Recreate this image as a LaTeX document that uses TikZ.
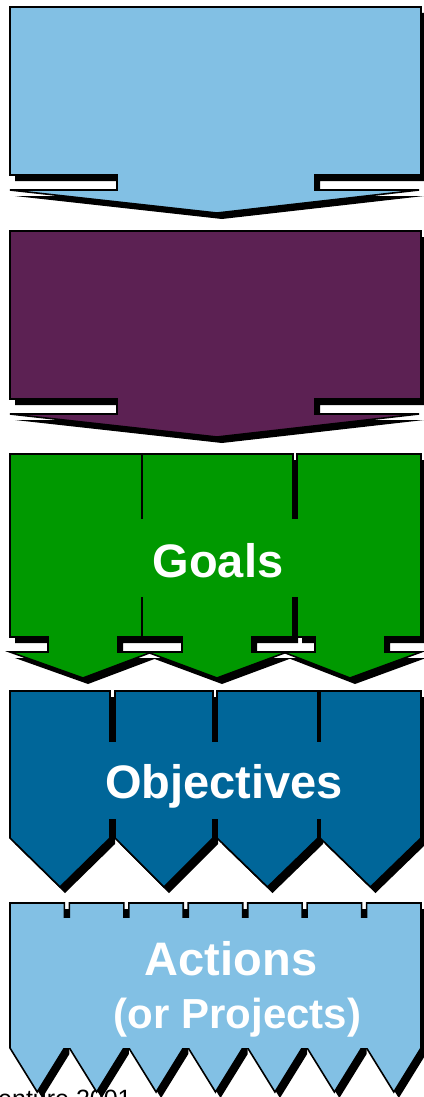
\documentclass[tikz,border=0pt]{standalone}
\usepackage{fontspec}
\setmainfont{Liberation Sans}
\definecolor{sky}{RGB}{130,192,228}
\definecolor{plum}{RGB}{92,33,83}
\definecolor{leaf}{RGB}{0,153,0}
\definecolor{sea}{RGB}{0,102,153}
\tikzset{
  outl/.style={draw=black,line width=1.6pt,line join=miter},
  lbl/.style={text=white,inner sep=0pt,font=\fontsize{47}{50}\selectfont\bfseries},
}
\newcommand\shadowed[2]{\fill[black,shift={(5,6)}] #2; \filldraw[outl,fill=#1] #2;}
% big arrow: colour, y offset
\newcommand\bigarrow[2]{%
  \begin{scope}[shift={(0,#2)}]
  \shadowed{#1}{(10,7) -- (421,7) -- (421,175) -- (315,175) -- (315,190) -- (419,190) -- (217,213) -- (10,190) -- (117,190) -- (117,175) -- (10,175) -- cycle}
  \end{scope}}
% green arrow: L R c headleft headright
\newcommand\garrow[5]{%
  \shadowed{leaf}{(#1,454) -- (#2,454) -- (#2,637) -- ({#3+35},637) -- ({#3+35},652) -- (#5,652) -- (#3,678) -- (#4,652) -- ({#3-35},652) -- ({#3-35},637) -- (#1,637) -- cycle}}
% pentagon: colour L R top side tip
\newcommand\pent[6]{%
  \shadowed{#1}{(#2,#4) -- (#3,#4) -- (#3,#5) -- ({(#2+#3)/2},#6) -- (#2,#5) -- cycle}}
\begin{document}
\begin{tikzpicture}[x=1pt,y=-1pt]
\useasboundingbox (0,0) rectangle (423,1097);
% top two arrows
\bigarrow{sky}{0}
\bigarrow{plum}{224}
% goals
\garrow{10}{142}{83}{10}{152}
\garrow{142}{293}{217}{147}{287}
\garrow{297}{421}{350}{283}{421}
\fill[leaf] (11.5,519) rectangle (419.5,597);
\node[lbl,anchor=base] (goals) at (218,577) {Goals};
% objectives
\pent{sea}{10}{110}{691}{838}{887}
\pent{sea}{115}{213}{691}{838}{887}
\pent{sea}{217}{318}{691}{838}{887}
\pent{sea}{320}{421}{691}{838}{887}
\fill[sea] (11.5,742) rectangle (419.5,819);
\node[lbl,anchor=base] (objectives) at (224,798) {Objectives};
% credit line (mostly cut off)
\node[anchor=base west,inner sep=0pt,font=\fontsize{25}{25}\selectfont] (credit) at (-2,1107) {enture 2001};
% actions
\foreach \i in {0,...,6}{%
  \pgfmathsetmacro\L{10+\i*59.43}%
  \pgfmathsetmacro\R{\L+54.43}%
  \pent{sky}{\L}{\R}{903}{1048}{1092}}
\fill[sky] (11.5,918) rectangle (419.5,1047.5);
\node[lbl,anchor=base] (actions) at (231,975) {Actions};
\node[lbl,anchor=base,font=\fontsize{42}{45}\selectfont\bfseries] (projects) at (237.5,1028) {(or Projects)};
\end{tikzpicture}
\end{document}
